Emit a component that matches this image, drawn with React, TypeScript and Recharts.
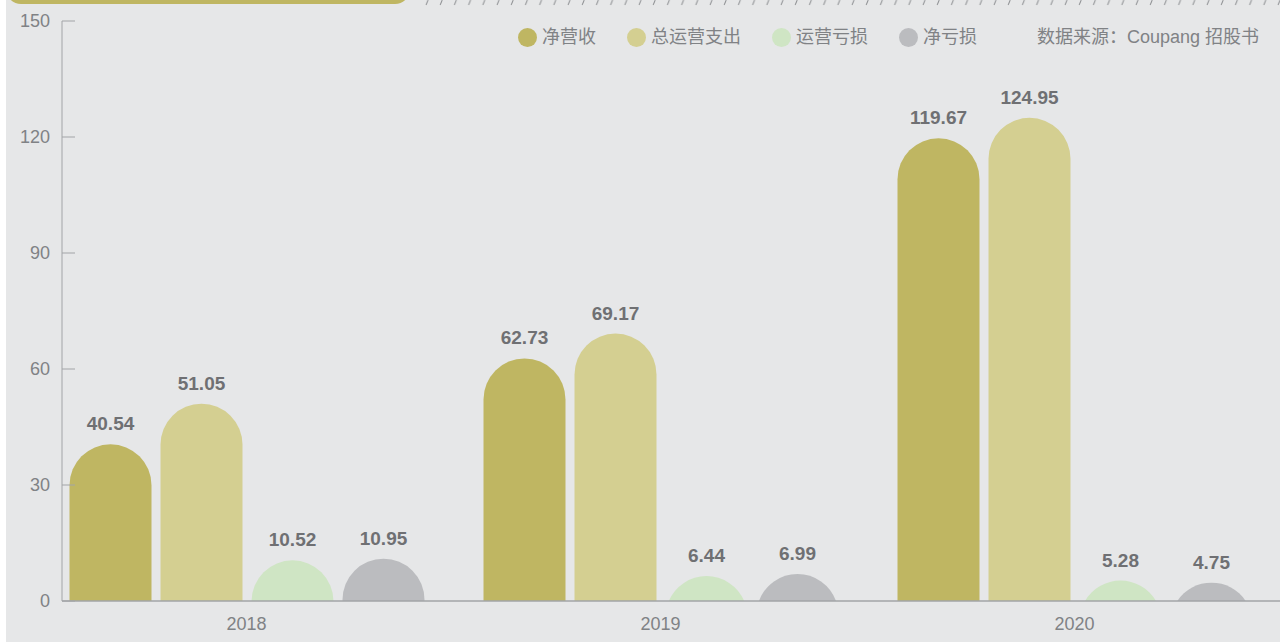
import React from 'react';
import {
  BarChart,
  Bar,
  XAxis,
  YAxis,
  LabelList,
  Legend,
} from 'recharts';

const years = ['2018', '2019', '2020'];
const netRevenue = [40.54, 62.73, 119.67];
const totalOpex = [51.05, 69.17, 124.95];
const operatingLoss = [10.52, 6.44, 5.28];
const netLoss = [10.95, 6.99, 4.75];
const yTicks = [0, 30, 60, 90, 120, 150];

const seriesNames = ['净营收', '总运营支出', '运营亏损', '净亏损'];
const seriesColors = ['#bfb662', '#d4cf91', '#cfe5c4', '#bbbcbf'];
const sourceNote = '数据来源：Coupang 招股书';

const data = years.map((year, i) => ({
  year,
  netRevenue: netRevenue[i],
  totalOpex: totalOpex[i],
  operatingLoss: operatingLoss[i],
  netLoss: netLoss[i],
}));

const seriesKeys = ['netRevenue', 'totalOpex', 'operatingLoss', 'netLoss'];

const FONT = '"Liberation Sans", Arial, "Noto Sans CJK SC", sans-serif';
const textGray = '#808285';
const labelGray = '#6f7073';
const axisGray = '#a2a4a7';

// bar with a round top; short bars become a circle segment cut by the baseline
const DomeBar = (props: any) => {
  const { x, y, width, height, fill } = props;
  if (!height || height <= 0) return null;
  const r = width / 2;
  const cx = x + r;
  const base = y + height;
  let d: string;
  if (height >= r) {
    d = `M${x},${base} L${x},${y + r} A${r},${r} 0 0 1 ${x + width},${y + r} L${x + width},${base} Z`;
  } else {
    const off = r - height;
    const c = Math.sqrt(r * r - off * off);
    d = `M${cx - c},${base} A${r},${r} 0 0 1 ${cx + c},${base} Z`;
  }
  return <path d={d} fill={fill} />;
};

const YTick = (props: any) => {
  const { x, y, payload } = props;
  return (
    <g>
      <line x1={x + 12} y1={y} x2={x + 25} y2={y} stroke={axisGray} strokeWidth={1} />
      <text
        x={x}
        y={y}
        dy={6}
        textAnchor="end"
        fill={textGray}
        fontSize={18}
        fontFamily={FONT}
      >
        {payload.value}
      </text>
    </g>
  );
};

const LegendContent = () => (
  <div
    style={{
      display: 'flex',
      alignItems: 'center',
      fontFamily: FONT,
      fontSize: 18,
      lineHeight: '20px',
      color: textGray,
      whiteSpace: 'nowrap',
    }}
  >
    {seriesNames.map((name, i) => (
      <div key={name} style={{ display: 'flex', alignItems: 'center', marginRight: i === 3 ? 60 : 31 }}>
        <span
          style={{
            display: 'inline-block',
            width: 19,
            height: 19,
            borderRadius: '50%',
            background: seriesColors[i],
            marginRight: 5,
          }}
        />
        <span>{name}</span>
      </div>
    ))}
    <span>{sourceNote}</span>
  </div>
);

const App: React.FC = () => {
  return (
    <div style={{ position: 'absolute', left: 0, top: 0, width: 1280, height: 642, background: '#fff', overflow: 'hidden' }}>
      <div style={{ position: 'absolute', left: 6, top: 0, width: 1274, height: 642, background: '#e6e7e8' }} />
      <div
        style={{
          position: 'absolute',
          left: 6,
          top: -26,
          width: 404,
          height: 30,
          borderRadius: 15,
          background: '#bfb662',
        }}
      />
      <svg style={{ position: 'absolute', left: 424, top: 0 }} width={856} height={6}>
        <defs>
          <pattern id="slash" width={14.2} height={6} patternUnits="userSpaceOnUse">
            <line x1={2} y1={5} x2={4} y2={0} stroke="#8f9194" strokeWidth={1} />
          </pattern>
        </defs>
        <rect x={0} y={0} width={856} height={6} fill="url(#slash)" />
      </svg>
      <div style={{ position: 'absolute', left: 0, top: 0 }}>
        <BarChart
          width={1280}
          height={642}
          data={data}
          margin={{ top: 21, right: 0, bottom: 0, left: 0 }}
          barSize={82}
          barGap={9}
        >
          <XAxis
            dataKey="year"
            height={41}
            padding={{ left: -22.5, right: -1.5 }}
            axisLine={{ stroke: axisGray, strokeWidth: 1.5 }}
            tickLine={false}
            tickSize={0}
            tickMargin={16}
            tick={{ fill: textGray, fontSize: 18, fontFamily: FONT }}
          />
          <YAxis
            width={62}
            domain={[0, 150]}
            ticks={yTicks}
            interval={0}
            axisLine={{ stroke: axisGray, strokeWidth: 1 }}
            tickLine={false}
            tickSize={0}
            tickMargin={12}
            tick={<YTick />}
          />
          <Legend
            layout="vertical"
            verticalAlign="middle"
            align="center"
            wrapperStyle={{ top: 27, left: 518, width: 762 }}
            content={<LegendContent />}
          />
          {seriesKeys.map((key, i) => (
            <Bar
              key={key}
              dataKey={key}
              name={seriesNames[i]}
              fill={seriesColors[i]}
              shape={<DomeBar />}
              isAnimationActive={false}
            >
              <LabelList
                dataKey={key}
                position="top"
                offset={14}
                fill={labelGray}
                fontSize={19}
                fontWeight={600}
                fontFamily={FONT}
              />
            </Bar>
          ))}
        </BarChart>
      </div>
    </div>
  );
};

export default App;
